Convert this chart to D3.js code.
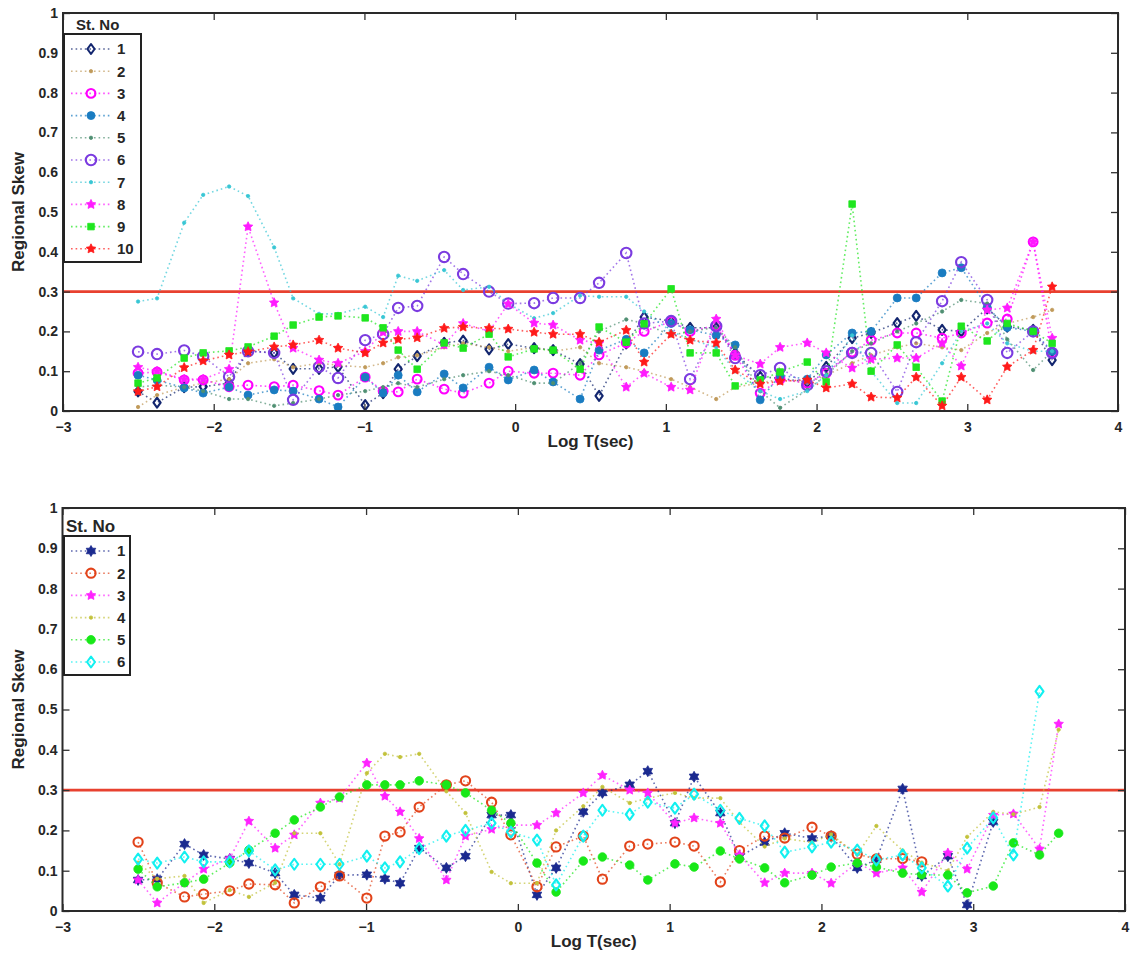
<!DOCTYPE html>
<html>
<head>
<meta charset="utf-8">
<script src="https://cdn.jsdelivr.net/npm/d3@7"></script>
<style>
    body { margin: 0; background: #fff; }
    text { font-family: "Liberation Sans", Arial, sans-serif; font-weight: bold; fill: #262626; }
</style>
</head>
<body>
<svg id="chart" width="1133" height="956"></svg>
<script>

// periods, log10 T(sec), shared by every station
var logT = [-2.502, -2.376, -2.196, -2.070, -1.898, -1.772, -1.599, -1.473, -1.301, -1.175,
    -0.995, -0.876, -0.776, -0.650, -0.471, -0.345, -0.173, -0.046, 0.126, 0.252,
    0.431, 0.557, 0.737, 0.856, 1.035, 1.161, 1.334, 1.460, 1.626, 1.758,
    1.938, 2.064, 2.236, 2.362, 2.535, 2.661, 2.833, 2.960, 3.132, 3.265,
    3.437, 3.563];

var xTicks = [-3, -2, -1, 0, 1, 2, 3, 4];
var yTicks = [0, 0.1, 0.2, 0.3, 0.4, 0.5, 0.6, 0.7, 0.8, 0.9, 1];
var yTickLabels = ["0", "0.1", "0.2", "0.3", "0.4", "0.5", "0.6", "0.7", "0.8", "0.9", "1"];
var refSkew = 0.3;

// upper panel, stations 1..10
var topStations = ["1", "2", "3", "4", "5", "6", "7", "8", "9", "10"];
var top1 = [0.049,0.021,0.06,0.061,0.07,0.151,0.146,0.106,0.106,0.111,0.015,0.045,0.105,0.138,0.171,0.177,0.155,0.168,0.158,0.153,0.118,0.038,0.17,0.236,0.226,0.209,0.209,0.145,0.086,0.082,0.073,0.111,0.183,0.196,0.221,0.239,0.204,0.2,0.258,0.212,0.204,0.128];
var top2 = [0.01,0.04,0.06,0.07,0.08,0.12,0.13,0.11,0.12,0.115,0.11,0.12,0.135,0.14,0.16,0.17,0.16,0.15,0.16,0.15,0.16,0.12,0.11,0.1,0.08,0.06,0.03,0.06,0.07,0.08,0.07,0.09,0.12,0.14,0.16,0.17,0.16,0.153,0.196,0.22,0.236,0.254];
var top3 = [0.095,0.098,0.078,0.078,0.061,0.065,0.061,0.065,0.051,0.04,0.085,0.05,0.048,0.08,0.055,0.045,0.07,0.1,0.095,0.095,0.09,0.141,0.171,0.2,0.225,0.2,0.215,0.14,0.045,0.08,0.07,0.095,0.148,0.178,0.196,0.196,0.183,0.196,0.221,0.231,0.425,0.146];
var top4 = [0.09,0.078,0.058,0.045,0.06,0.04,0.053,0.05,0.03,0.01,0.085,0.045,0.09,0.048,0.093,0.058,0.11,0.078,0.103,0.073,0.03,0.153,0.18,0.146,0.22,0.204,0.19,0.166,0.028,0.09,0.08,0.141,0.196,0.2,0.284,0.284,0.347,0.36,0.261,0.21,0.2,0.15];
var top5 = [0.06,0.065,0.06,0.05,0.03,0.03,0.013,0.02,0.03,0.04,0.05,0.06,0.07,0.06,0.08,0.09,0.1,0.09,0.07,0.07,0.12,0.2,0.23,0.22,0.19,0.2,0.21,0.16,0.05,0.008,0.053,0.09,0.15,0.17,0.2,0.22,0.25,0.279,0.27,0.18,0.103,0.15];
var top6 = [0.149,0.143,0.152,0.137,0.086,0.15,0.146,0.028,0.111,0.083,0.178,0.193,0.259,0.264,0.387,0.344,0.3,0.27,0.271,0.284,0.284,0.322,0.397,0.22,0.226,0.08,0.213,0.133,0.09,0.108,0.065,0.1,0.146,0.146,0.048,0.173,0.276,0.374,0.279,0.146,0.2,0.146];
var top7 = [0.275,0.283,0.473,0.543,0.564,0.54,0.411,0.283,0.244,0.244,0.262,0.236,0.34,0.327,0.354,0.304,0.312,0.27,0.233,0.246,0.29,0.287,0.287,0.25,0.2,0.18,0.16,0.1,0.05,0.03,0.05,0.09,0.19,0.1,0.02,0.02,0.12,0.2,0.22,0.17,0.15,0.15];
var top8 = [0.11,0.1,0.08,0.08,0.105,0.463,0.272,0.158,0.128,0.12,0.15,0.198,0.2,0.2,0.166,0.22,0.2,0.269,0.221,0.216,0.178,0.17,0.06,0.095,0.06,0.053,0.231,0.14,0.118,0.16,0.171,0.146,0.108,0.13,0.133,0.133,0.17,0.113,0.254,0.259,0.425,0.183];
var top9 = [0.07,0.083,0.133,0.146,0.151,0.161,0.188,0.216,0.236,0.239,0.234,0.209,0.153,0.105,0.171,0.158,0.193,0.136,0.156,0.153,0.105,0.211,0.173,0.219,0.307,0.146,0.146,0.063,0.078,0.098,0.123,0.073,0.52,0.1,0.166,0.11,0.025,0.213,0.176,0.22,0.2,0.17];
var top10 = [0.049,0.061,0.109,0.126,0.141,0.149,0.161,0.166,0.178,0.158,0.146,0.171,0.18,0.184,0.208,0.211,0.208,0.206,0.198,0.193,0.193,0.173,0.203,0.123,0.193,0.178,0.171,0.103,0.068,0.075,0.078,0.058,0.068,0.035,0.033,0.085,0.013,0.085,0.028,0.111,0.153,0.312];

// lower panel, stations 1..6
var bottomStations = ["1", "2", "3", "4", "5", "6"];
var bot1 = [0.077,0.079,0.166,0.139,0.129,0.119,0.094,0.04,0.032,0.089,0.09,0.08,0.069,0.156,0.107,0.136,0.238,0.238,0.04,0.107,0.246,0.293,0.313,0.347,0.218,0.333,0.243,0.135,0.17,0.193,0.18,0.186,0.107,0.127,0.303,0.087,0.136,0.015,0.221,null,null,null];
var bot2 = [0.171,0.07,0.035,0.042,0.05,0.067,0.065,0.02,0.06,0.087,0.032,0.186,0.196,0.258,0.313,0.323,0.27,0.189,0.06,0.159,0.186,0.079,0.161,0.166,0.171,0.161,0.072,0.15,0.186,0.181,0.208,0.186,0.141,0.129,0.13,0.122,null,null,null,null,null,null];
var bot3 = [0.077,0.02,0.07,0.104,0.13,0.223,0.156,0.189,0.268,0.28,0.367,0.285,0.246,0.18,0.077,0.186,0.203,0.213,0.213,0.243,0.293,0.337,0.3,0.293,0.218,0.231,0.218,0.139,0.07,0.094,0.094,0.069,0.12,0.094,0.107,0.047,0.144,0.104,0.238,0.241,0.154,0.464];
var bot4 = [0.12,0.08,0.087,0.02,0.052,0.035,0.07,0.193,0.193,0.116,0.342,0.39,0.382,0.39,0.297,0.243,0.097,0.069,0.069,0.2,0.26,0.308,0.268,0.28,0.293,0.28,0.28,0.22,0.16,0.18,0.17,0.19,0.14,0.211,0.15,0.12,0.1,0.184,0.246,0.24,0.258,0.45];
var bot5 = [0.104,0.06,0.07,0.079,0.119,0.151,0.193,0.226,0.258,0.283,0.313,0.313,0.313,0.323,0.313,0.293,0.25,0.218,0.119,0.047,0.124,0.134,0.114,0.077,0.117,0.109,0.149,0.129,0.107,0.07,0.089,0.109,0.119,0.109,0.094,0.09,0.089,0.045,0.062,0.169,0.139,0.193];
var bot6 = [0.129,0.119,0.134,0.122,0.122,0.149,0.102,0.116,0.116,0.116,0.136,0.107,0.122,0.155,0.186,0.2,0.218,0.196,0.176,0.065,0.186,0.25,0.24,0.27,0.255,0.29,0.25,0.23,0.211,0.146,0.159,0.171,0.151,0.127,0.139,0.107,0.062,0.156,0.231,0.139,0.545,null];


var topSeries = [
    {values: top1,  color: "#13266f", marker: "diamond", r: 5,   open: true},
    {values: top2,  color: "#c09a5a", marker: "dot",     r: 1.7},
    {values: top3,  color: "#ff00ff", marker: "circle",  r: 4.4, open: true},
    {values: top4,  color: "#1a7cc1", marker: "circle",  r: 4},
    {values: top5,  color: "#4f8f72", marker: "dot",     r: 1.7},
    {values: top6,  color: "#7b3be0", marker: "circle",  r: 5.2, open: true},
    {values: top7,  color: "#38c6d4", marker: "dot",     r: 1.7},
    {values: top8,  color: "#ff1aff", marker: "sparkle", r: 5},
    {values: top9,  color: "#1fe61f", marker: "square",  r: 3.3},
    {values: top10, color: "#ff1a1a", marker: "sparkle", r: 5}
];
topSeries.forEach(function(s, i) { s.name = topStations[i]; });

var bottomSeries = [
    {values: bot1, color: "#1b2a8f", marker: "hexagram", r: 5.5},
    {values: bot2, color: "#e2431a", marker: "circle",   r: 4.6, open: true},
    {values: bot3, color: "#ff22ff", marker: "sparkle",  r: 5},
    {values: bot4, color: "#c2c23a", marker: "dot",      r: 1.7},
    {values: bot5, color: "#18e818", marker: "circle",   r: 4.3},
    {values: bot6, color: "#12f0f0", marker: "diamond",  r: 5.5, open: true}
];
bottomSeries.forEach(function(s, i) { s.name = bottomStations[i]; });


var svg = d3.select("#chart");

drawPanel(svg, {
    left: 63, right: 1118, top: 13, bottom: 411,
    series: topSeries,
    legend: {x: 64, y: 34, w: 77, h: 228, row0: 15, step: 22.2, titleSize: 15, titleX: 76}
});

drawPanel(svg, {
    left: 62.5, right: 1125, top: 508, bottom: 911,
    series: bottomSeries,
    legend: {x: 64, y: 536, w: 66, h: 139, row0: 15, step: 22.2, titleSize: 17, titleX: 66}
});


function markerPath(type, r) {
    var pts = [], k, a, rr;
    if (type == "diamond") {
        var w = r * 0.72;
        return "M0," + (-r) + "L" + w + ",0L0," + r + "L" + (-w) + ",0Z";
    }
    if (type == "square") {
        return "M" + (-r) + "," + (-r) + "h" + (2 * r) + "v" + (2 * r) + "h" + (-2 * r) + "Z";
    }
    if (type == "sparkle") {
        // filled pentagram, as MATLAB draws it at small size
        for (k = 0; k < 10; k++) {
            a = Math.PI / 5 * k - Math.PI / 2;
            rr = k % 2 ? r * 0.5 : r;
            pts.push([rr * Math.cos(a), rr * Math.sin(a)]);
        }
        return "M" + pts.join("L") + "Z";
    }
    if (type == "hexagram") {
        for (k = 0; k < 12; k++) {
            a = Math.PI / 6 * k - Math.PI / 2;
            rr = k % 2 ? r * 0.58 : r;
            pts.push([rr * Math.cos(a), rr * Math.sin(a)]);
        }
        return "M" + pts.join("L") + "Z";
    }
    return d3.symbol(d3.symbolCircle, Math.PI * r * r)();
}

function styleMarker(sel, s) {
    sel.attr("d", markerPath(s.marker, s.r))
        .attr("fill", s.open ? "none" : s.color)
        .attr("stroke", s.color)
        .attr("stroke-width", s.open ? 2.1 : 0.8)
        .attr("stroke-linejoin", "round");
}

function drawPanel(svg, cfg) {

    var x = d3.scaleLinear().domain([-3, 4]).range([cfg.left, cfg.right]);
    var y = d3.scaleLinear().domain([0, 1]).range([cfg.bottom, cfg.top]);

    var g = svg.append("g");

    var line = d3.line()
        .defined(function(d) { return d.v != null; })
        .x(function(d) { return x(d.t); })
        .y(function(d) { return y(d.v); });

    // reference skew
    g.append("line")
        .attr("x1", x(-3)).attr("x2", x(4))
        .attr("y1", y(refSkew)).attr("y2", y(refSkew))
        .attr("stroke", "#e8412f")
        .attr("stroke-width", 2.6);

    cfg.series.forEach(function(s) {
        var pts = logT.map(function(t, i) { return {t: t, v: s.values[i]}; });

        g.append("path")
            .datum(pts)
            .attr("d", line)
            .attr("fill", "none")
            .attr("stroke", s.color)
            .attr("stroke-width", 1.6)
            .attr("stroke-dasharray", "1.6,3")
            .attr("opacity", 0.7);

        g.append("g")
            .selectAll("path")
            .data(pts.filter(function(d) { return d.v != null; }))
            .enter().append("path")
            .attr("transform", function(d) { return "translate(" + x(d.t) + "," + y(d.v) + ")"; })
            .call(styleMarker, s);
    });

    // axes, MATLAB style: inner ticks on all four sides
    g.append("g")
        .attr("transform", "translate(0," + cfg.bottom + ")")
        .call(d3.axisBottom(x).tickValues(xTicks).tickSizeInner(-7).tickSizeOuter(0).tickPadding(11)
            .tickFormat(d3.format("d")));

    g.append("g")
        .attr("transform", "translate(0," + cfg.top + ")")
        .call(d3.axisTop(x).tickValues(xTicks).tickSizeInner(-7).tickSizeOuter(0).tickFormat(""));

    g.append("g")
        .attr("transform", "translate(" + cfg.left + ",0)")
        .call(d3.axisLeft(y).tickValues(yTicks).tickSizeInner(-7).tickSizeOuter(0).tickPadding(5)
            .tickFormat(function(d, i) { return yTickLabels[i]; }));

    g.append("g")
        .attr("transform", "translate(" + cfg.right + ",0)")
        .call(d3.axisRight(y).tickValues(yTicks).tickSizeInner(-7).tickSizeOuter(0).tickFormat(""));

    g.selectAll(".domain").remove();
    g.selectAll(".tick line").attr("stroke", "#333").attr("stroke-width", 1.3);
    g.selectAll(".tick text")
        .attr("font-size", 14)
        .attr("font-family", "'Liberation Sans', Arial, sans-serif")
        .attr("font-weight", "bold")
        .attr("fill", "#262626");

    g.append("rect")
        .attr("x", cfg.left).attr("y", cfg.top)
        .attr("width", cfg.right - cfg.left)
        .attr("height", cfg.bottom - cfg.top)
        .attr("fill", "none")
        .attr("stroke", "#2a2a2a")
        .attr("stroke-width", 2);

    g.append("text")
        .attr("x", (cfg.left + cfg.right) / 2)
        .attr("y", cfg.bottom + 36)
        .attr("text-anchor", "middle")
        .attr("font-size", 17)
        .text("Log T(sec)");

    g.append("text")
        .attr("transform", "translate(24," + ((cfg.top + cfg.bottom) / 2) + ") rotate(-90)")
        .attr("text-anchor", "middle")
        .attr("font-size", 17)
        .text("Regional Skew");

    // legend
    var L = cfg.legend;
    var lg = g.append("g").attr("transform", "translate(" + L.x + "," + L.y + ")");

    g.append("text")
        .attr("x", L.titleX)
        .attr("y", L.y - 4)
        .attr("font-size", L.titleSize)
        .text("St. No");

    lg.append("rect")
        .attr("width", L.w).attr("height", L.h)
        .attr("fill", "#fff")
        .attr("stroke", "#222")
        .attr("stroke-width", 2);

    var rows = lg.selectAll(".row")
        .data(cfg.series)
        .enter().append("g")
        .attr("class", "row")
        .attr("transform", function(d, i) { return "translate(0," + (L.row0 + i * L.step) + ")"; });

    rows.append("line")
        .attr("x1", 7).attr("x2", 46)
        .attr("stroke", function(d) { return d.color; })
        .attr("stroke-width", 1.6)
        .attr("stroke-dasharray", "1.6,3")
        .attr("opacity", 0.7);

    rows.append("path")
        .attr("transform", "translate(27,0)")
        .each(function(d) { d3.select(this).call(styleMarker, d); });

    rows.append("text")
        .attr("x", 53)
        .attr("dy", "0.36em")
        .attr("font-size", 15)
        .text(function(d) { return d.name; });
}

</script>
</body>
</html>
